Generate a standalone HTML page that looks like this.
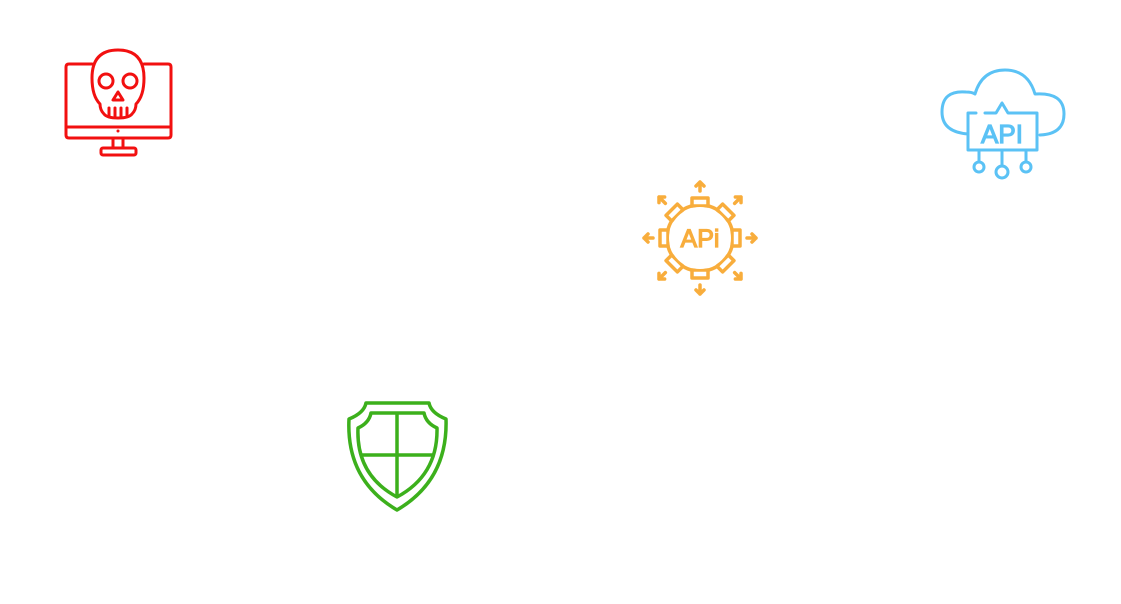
<!DOCTYPE html>
<html><head><style>
html,body{margin:0;padding:0;background:#fff;width:1121px;height:604px;overflow:hidden}
</style></head><body>
<svg width="1121" height="604" viewBox="0 0 1121 604" xmlns="http://www.w3.org/2000/svg">
<!-- Monitor skull -->
<g fill="none" stroke="#f21010" stroke-width="3" stroke-linejoin="round" stroke-linecap="round">
  <path d="M92,64 H69 Q66,64 66,67 V135 Q66,138 69,138 H168 Q171,138 171,135 V67 Q171,64 168,64 H144"/>
  <line x1="66" y1="127" x2="171" y2="127"/>
  <path d="M113,138 V148 M123,138 V148"/>
  <rect x="101" y="148" width="35" height="7" rx="2"/>
  <path d="M104,114 Q100,110 100,104 Q92,96 92,78 Q92,50 118,50 Q144,50 144,78 Q144,96 136,104 Q136,110 132,114 Q129,118 118,118 Q107,118 104,114 Z" fill="#fff"/>
  <circle cx="106" cy="81" r="7"/>
  <circle cx="130" cy="81" r="7"/>
  <path d="M118,92 L113,100 H123 Z"/>
  <path d="M109,108 V116 M115,108 V117 M121,108 V117 M127,108 V116"/>
</g>
<circle cx="118" cy="131" r="1.5" fill="#f21010"/>

<!-- Cloud API -->
<g fill="none" stroke="#5bc2f5" stroke-width="3" stroke-linecap="round" stroke-linejoin="round">
  <path d="M968,134 Q942,132 942,112 Q942,90 966,92 Q972,92 975,94 Q982,70 1005,70 Q1028,70 1035,94 Q1064,92 1064,114 Q1064,134 1040,135"/>
  <path d="M976,113 H968 V150 H1037 V113 H1008 L1002,103 L996,113 H985"/>
  <path d="M979,150 V157 L979,162 M1002,150 V166 M1026,150 V162"/>
  <circle cx="979" cy="167" r="5"/>
  <circle cx="1002" cy="172" r="6"/>
  <circle cx="1026" cy="167" r="5"/>
</g>
<text x="1002" y="143" font-family="Liberation Sans, sans-serif" font-size="26" fill="#5bc2f5" stroke="#5bc2f5" stroke-width="1.2" text-anchor="middle">API</text>

<!-- Gear API -->
<g transform="translate(700,238)" stroke="#f8ad3c" fill="none" stroke-width="3.5" stroke-linejoin="round" stroke-linecap="round">
  <circle r="33"/>
  <g fill="#fff">
    <rect x="-8" y="-40" width="16" height="8"/>
    <rect x="-8" y="-40" width="16" height="8" transform="rotate(45)"/>
    <rect x="-8" y="-40" width="16" height="8" transform="rotate(90)"/>
    <rect x="-8" y="-40" width="16" height="8" transform="rotate(135)"/>
    <rect x="-8" y="-40" width="16" height="8" transform="rotate(180)"/>
    <rect x="-8" y="-40" width="16" height="8" transform="rotate(225)"/>
    <rect x="-8" y="-40" width="16" height="8" transform="rotate(270)"/>
    <rect x="-8" y="-40" width="16" height="8" transform="rotate(315)"/>
  </g>
  <circle r="31" stroke="none" fill="#fff"/>
  <path d="M0,-47 V-56 M-4,-52 L0,-56 L4,-52"/>
  <g transform="rotate(45)"><path d="M0,-49 V-58 M-4,-54 L0,-58 L4,-54"/></g>
  <g transform="rotate(90)"><path d="M0,-47 V-56 M-4,-52 L0,-56 L4,-52"/></g>
  <g transform="rotate(135)"><path d="M0,-49 V-58 M-4,-54 L0,-58 L4,-54"/></g>
  <g transform="rotate(180)"><path d="M0,-47 V-56 M-4,-52 L0,-56 L4,-52"/></g>
  <g transform="rotate(225)"><path d="M0,-49 V-58 M-4,-54 L0,-58 L4,-54"/></g>
  <g transform="rotate(270)"><path d="M0,-47 V-56 M-4,-52 L0,-56 L4,-52"/></g>
  <g transform="rotate(315)"><path d="M0,-49 V-58 M-4,-54 L0,-58 L4,-54"/></g>
</g>
<text x="700" y="247" font-family="Liberation Sans, sans-serif" font-size="25" fill="#f8ad3c" stroke="#f8ad3c" stroke-width="1.2" text-anchor="middle">APi</text>

<!-- Shield -->
<g fill="none" stroke="#3cb01c" stroke-width="3.5" stroke-linejoin="round">
  <path d="M366,403 H429 Q431,413 446,419 Q448,480 397,510 Q346,480 349,419 Q364,413 366,403 Z"/>
  <path d="M371,413 H424 Q426,423 437,428 Q438,475 397,497 Q356,475 358,428 Q369,423 371,413 Z"/>
  <path d="M397,414 V496 M361,455 H433"/>
</g>
</svg>
</body></html>
